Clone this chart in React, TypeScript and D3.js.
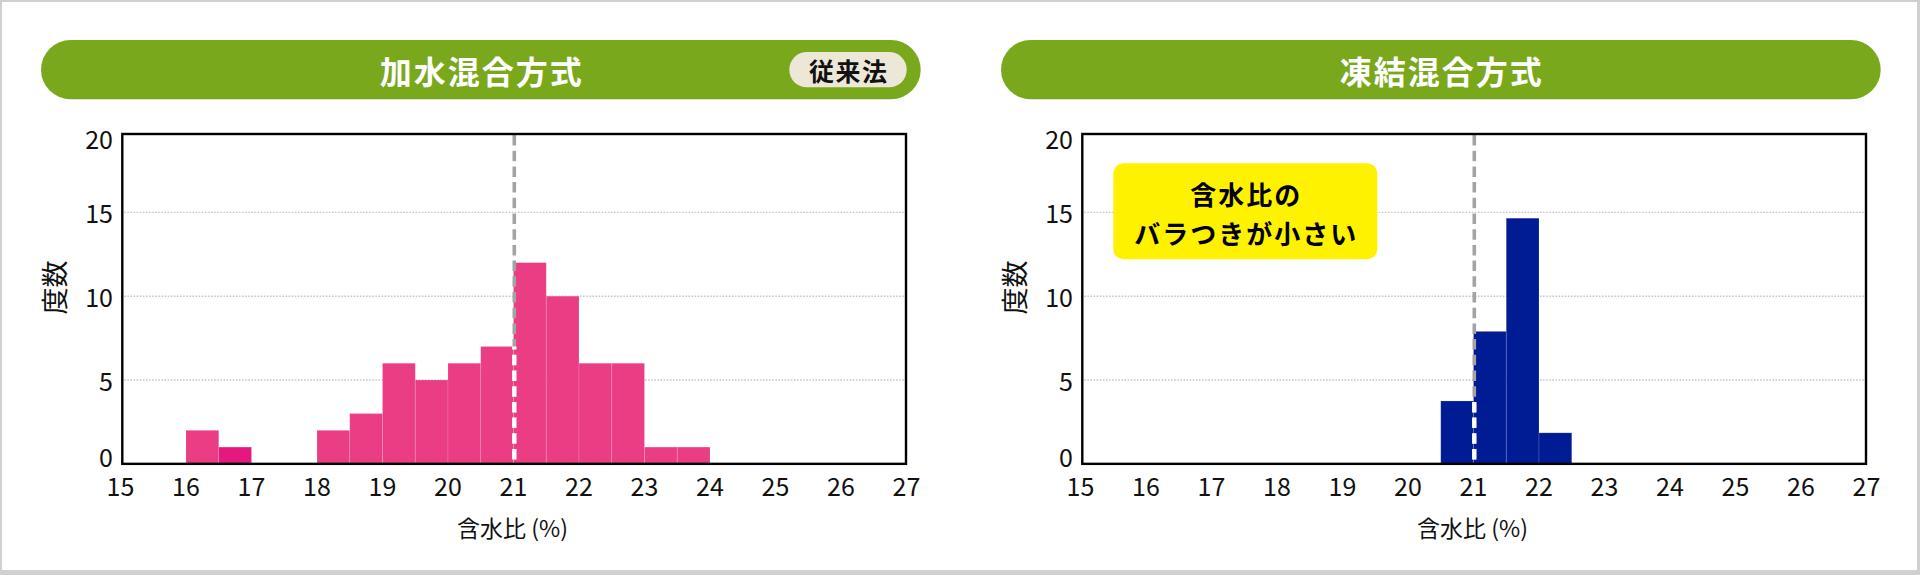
import React from "react";
import * as d3 from "d3";

// ---------- data ----------
const xTicks = [15, 16, 17, 18, 19, 20, 21, 22, 23, 24, 25, 26, 27];
const yTicks = [0, 5, 10, 15, 20];
const binWidth = 0.5;
const referenceValue = 21;

const kasuiTitle = "加水混合方式";
const kasuiBadge = "従来法";
const kasuiBinStarts = [16, 16.5, 17, 17.5, 18, 18.5, 19, 19.5, 20, 20.5, 21, 21.5, 22, 22.5, 23, 23.5];
const kasuiCounts = [2, 1, 0, 0, 2, 3, 6, 5, 6, 7, 12, 10, 6, 6, 1, 1];
const kasuiAccentBin = 16.5;

const touketsuTitle = "凍結混合方式";
const touketsuBinStarts = [20.5, 21, 21.5, 22];
const touketsuCounts = [3.75, 7.9, 14.65, 1.85];
const touketsuNote = ["含水比の", "バラつきが小さい"];

const xAxisTitle = "含水比 (%)";
const yAxisTitle = "度数";

// ---------- layout ----------
const W = 1920;
const H = 575;
const PANEL_DX = 960;
const FONT = "'Noto Sans CJK JP', 'Noto Sans', sans-serif";

const plotLeft = 122.3;
const plotRight = 906;
const plotTop = 134;
const baseY = 463.85;

type PanelProps = {
  dx: number;
  title: string;
  badge?: string;
  binStarts: number[];
  counts: number[];
  color: string;
  accentBin?: number;
  accentColor?: string;
  note?: string[];
};

function Panel({ dx, title, badge, binStarts, counts, color, accentBin, accentColor, note }: PanelProps) {
  const x = d3.scaleLinear().domain([15, 27]).range([120.5 + dx, 906.5 + dx]);
  const y = d3.scaleLinear().domain([0, 20]).range([baseY, 128.5]);
  const gridVals = yTicks.filter((v) => v > 0 && v < 20);

  const refX = x(referenceValue) + 0.8;
  const leftIdx = binStarts.findIndex((b) => Math.abs(b - (referenceValue - binWidth)) < 1e-9);
  const leftVal = leftIdx >= 0 ? counts[leftIdx] : 0;
  const clipId = `refclip-${dx}`;

  const pillL = 41 + dx;
  const pillR = 920.7 + dx;
  const pillT = 40;
  const pillB = 99.3;
  const pillCx = (pillL + pillR) / 2;

  return (
    <g>
      {/* title pill */}
      <rect x={pillL} y={pillT} width={pillR - pillL} height={pillB - pillT} rx={(pillB - pillT) / 2} fill="#7aa81c" />
      <text
        x={pillCx + 1}
        y={70}
        textAnchor="middle"
        dominantBaseline="central"
        fill="#ffffff"
        fontFamily={FONT}
        fontWeight={700}
        fontSize={32}
        letterSpacing={2}
      >
        {title}
      </text>
      {badge && (
        <g>
          <rect x={789.3 + dx} y={52} width={117.4} height={35.3} rx={17.6} fill="#ede7d8" />
          <text
            x={848.8 + dx}
            y={70}
            textAnchor="middle"
            dominantBaseline="central"
            fill="#111"
            fontFamily={FONT}
            fontWeight={700}
            fontSize={25}
            letterSpacing={1.5}
          >
            {badge}
          </text>
        </g>
      )}

      {/* grid */}
      {gridVals.map((v) => (
        <line
          key={v}
          x1={plotLeft + dx + 2}
          x2={plotRight + dx}
          y1={y(v)}
          y2={y(v)}
          stroke="#c4c4c4"
          strokeWidth={1.4}
          strokeDasharray="1.5 1.6"
        />
      ))}

      {/* bars */}
      {binStarts.map((b, i) =>
        counts[i] > 0 ? (
          <rect
            key={b}
            x={x(b)}
            y={y(counts[i])}
            width={x(b + binWidth) - x(b)}
            height={baseY - y(counts[i])}
            fill={accentBin !== undefined && Math.abs(b - accentBin) < 1e-9 ? accentColor : color}
            stroke="rgba(255,255,255,0.18)"
            strokeWidth={0.8}
          />
        ) : null
      )}

      {/* reference dashed line */}
      <defs>
        <clipPath id={clipId}>
          <rect x={refX - 5} y={y(leftVal)} width={10} height={baseY - y(leftVal)} />
        </clipPath>
      </defs>
      <line x1={refX} x2={refX} y1={plotTop + 1} y2={baseY} stroke="#a3a3a3" strokeWidth={3.6} strokeDasharray="10.5 5.2" />
      <line
        x1={refX}
        x2={refX}
        y1={plotTop + 1}
        y2={baseY}
        stroke="#ffffff"
        strokeWidth={4.4}
        strokeDasharray="10.5 5.2"
        clipPath={`url(#${clipId})`}
      />

      {/* frame */}
      <rect
        x={plotLeft + dx}
        y={plotTop}
        width={plotRight - plotLeft}
        height={baseY - plotTop}
        fill="none"
        stroke="#000"
        strokeWidth={2.4}
      />

      {/* y tick labels */}
      {yTicks.map((v) => {
        const cy = Math.min(Math.max(y(v), plotTop + 3.5), baseY - 8);
        return (
          <text
            key={v}
            x={113 + dx}
            y={cy}
            textAnchor="end"
            dominantBaseline="central"
            fontFamily={FONT}
            fontSize={25}
            fill="#111"
          >
            {v}
          </text>
        );
      })}

      {/* x tick labels */}
      {xTicks.map((v) => (
        <text
          key={v}
          x={x(v)}
          y={485}
          textAnchor="middle"
          dominantBaseline="central"
          fontFamily={FONT}
          fontSize={25}
          fill="#111"
        >
          {v}
        </text>
      ))}

      {/* axis titles */}
      <text
        x={512.5 + dx}
        y={526.7}
        textAnchor="middle"
        dominantBaseline="central"
        fontFamily={FONT}
        fontSize={23}
        fill="#111"
      >
        {xAxisTitle}
      </text>
      <text
        transform={`translate(${53.3 + dx},287.5) rotate(-90)`}
        textAnchor="middle"
        dominantBaseline="central"
        fontFamily={FONT}
        fontSize={27}
        fill="#111"
      >
        {yAxisTitle}
      </text>

      {/* note box */}
      {note && (
        <g>
          <rect x={1113.3} y={163.3} width={264} height={96} rx={10} fill="#fff200" />
          {note.map((line, i) => (
            <text
              key={i}
              x={1246.3}
              y={i === 0 ? 193.3 : 232.5}
              textAnchor="middle"
              dominantBaseline="central"
              fontFamily={FONT}
              fontWeight={700}
              fontSize={26}
              letterSpacing={2}
              fill="#000"
            >
              {line}
            </text>
          ))}
        </g>
      )}
    </g>
  );
}

export default function App() {
  React.useEffect(() => {
    document.body.style.margin = "0";
  }, []);
  return (
    <svg
      width={W}
      height={H}
      viewBox={`0 0 ${W} ${H}`}
      style={{ position: "absolute", left: 0, top: 0, display: "block" }}
    >
      <rect x={0} y={0} width={W} height={H} fill="#d0d0d0" />
      <rect x={2} y={2} width={W - 5} height={H - 7} fill="#ffffff" />
      <Panel
        dx={0}
        title={kasuiTitle}
        badge={kasuiBadge}
        binStarts={kasuiBinStarts}
        counts={kasuiCounts}
        color="#ea3d83"
        accentBin={kasuiAccentBin}
        accentColor="#e5187f"
      />
      <Panel
        dx={PANEL_DX}
        title={touketsuTitle}
        binStarts={touketsuBinStarts}
        counts={touketsuCounts}
        color="#001c94"
        note={touketsuNote}
      />
    </svg>
  );
}
